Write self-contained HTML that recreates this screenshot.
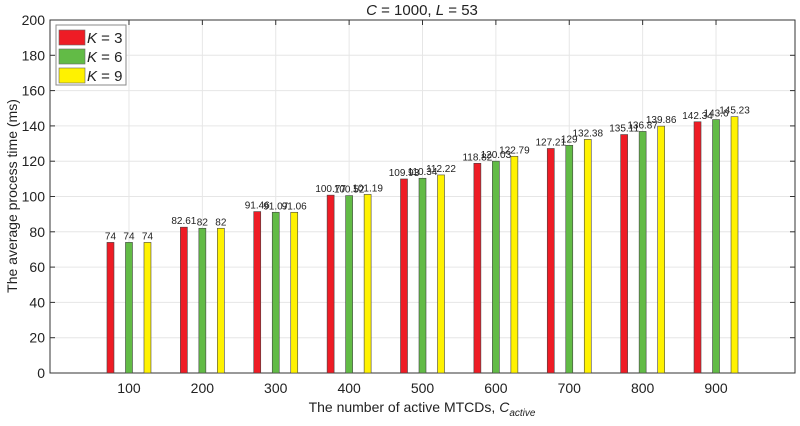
<!DOCTYPE html>
<html><head><meta charset="utf-8"><style>
body{margin:0;background:#fff;font-family:"Liberation Sans",Arial,sans-serif}
svg text{font-family:"Liberation Sans",Arial,sans-serif;fill:#222}
</style></head><body>
<svg id="chart" width="800" height="421"></svg>
<script>
const categories=[100,200,300,400,500,600,700,800,900];
const seriesK3=[74,82.61,91.46,100.77,109.93,118.82,127.21,135.11,142.34];
const seriesK6=[74,82,91.07,100.52,110.34,120.03,129,136.87,143.6];
const seriesK9=[74,82,91.06,101.19,112.22,122.79,132.38,139.86,145.23];
const labelsK3=["74","82.61","91.46","100.77","109.93","118.82","127.21","135.11","142.34"];
const labelsK6=["74","82","91.07","100.52","110.34","120.03","129","136.87","143.6"];
const labelsK9=["74","82","91.06","101.19","112.22","122.79","132.38","139.86","145.23"];
const yTicks=[0,20,40,60,80,100,120,140,160,180,200];

const NS="http://www.w3.org/2000/svg";
const svg=document.getElementById('chart');
const L=50,R=795,T=20,B=373;
const x=v=>55.6+(v)*0.7338;
const y=v=>B-(v/200)*(B-T);
function mk(tag,attrs,parent){const e=document.createElementNS(NS,tag);for(const k in attrs)e.setAttribute(k,attrs[k]);(parent||svg).appendChild(e);return e;}

// grid
yTicks.forEach(t=>{
  const g=mk('line',{x1:L,x2:R,y1:y(t),y2:y(t),stroke:'#e6e6e6','stroke-width':1});
  
  
  mk('line',{x1:L,x2:L+5,y1:y(t),y2:y(t),stroke:'#333'});
  mk('line',{x1:R-5,x2:R,y1:y(t),y2:y(t),stroke:'#333'});
  const tx=mk('text',{x:L-5,y:y(t)+5,'text-anchor':'end','font-size':14});
  tx.textContent=t;
  
  
});
categories.forEach(c=>{
  const g=mk('line',{x1:x(c),x2:x(c),y1:T,y2:B,stroke:'#e6e6e6'});
  
  
  mk('line',{x1:x(c),x2:x(c),y1:B,y2:B-5,stroke:'#333'});
  mk('line',{x1:x(c),x2:x(c),y1:T,y2:T+5,stroke:'#333'});
  const tx=mk('text',{x:x(c),y:B+20,'text-anchor':'middle','font-size':14});
  tx.textContent=c;
  
  
});
const box=mk('rect',{x:L,y:T,width:R-L,height:B-T,fill:'none',stroke:'#333','stroke-width':1});



const series=[[seriesK3,labelsK3,'#ee1c25',-18.5,'k3'],[seriesK6,labelsK6,'#62bb46',0,'k6'],[seriesK9,labelsK9,'#fff200',18.5,'k9']];
series.forEach(([vals,labs,col,off,nm])=>{
  vals.forEach((v,i)=>{
    const cx=x(categories[i])+off;
    const r=mk('rect',{x:cx-3.5,y:y(v),width:7,height:B-y(v),fill:col,stroke:'#444','stroke-width':0.6});
    
    
    const t=mk('text',{x:cx,y:y(v)-3,'text-anchor':'middle','font-size':10});
    t.textContent=labs[i];
    
    
  });
});

// legend
const lg=mk('g',{});


mk('rect',{x:56,y:25,width:70,height:60,fill:'#fff',stroke:'#888'},lg);
[['#ee1c25','3'],['#62bb46','6'],['#fff200','9']].forEach(([c,k],i)=>{
  const e=mk('g',{},lg);
  
  
  mk('rect',{x:59,y:30+i*19,width:26,height:15,fill:c,stroke:'#666','stroke-width':0.6},e);
  const t=mk('text',{x:87,y:43+i*19,'font-size':15},e);
  t.innerHTML='<tspan font-style="italic">K</tspan> = '+k;
});
</script>
<svg width="800" height="421" style="position:absolute;left:0;top:0">
<text x="422" y="15" text-anchor="middle" font-size="15"><tspan font-style="italic">C</tspan> = 1000, <tspan font-style="italic">L</tspan> = 53</text>
<text x="422" y="412" text-anchor="middle" font-size="14">The number of active MTCDs, <tspan font-style="italic">C</tspan><tspan font-style="italic" font-size="10" dy="4">active</tspan></text>
<text transform="translate(17,196) rotate(-90)" text-anchor="middle" font-size="14">The average process time (ms)</text>
</svg>
</body></html>
